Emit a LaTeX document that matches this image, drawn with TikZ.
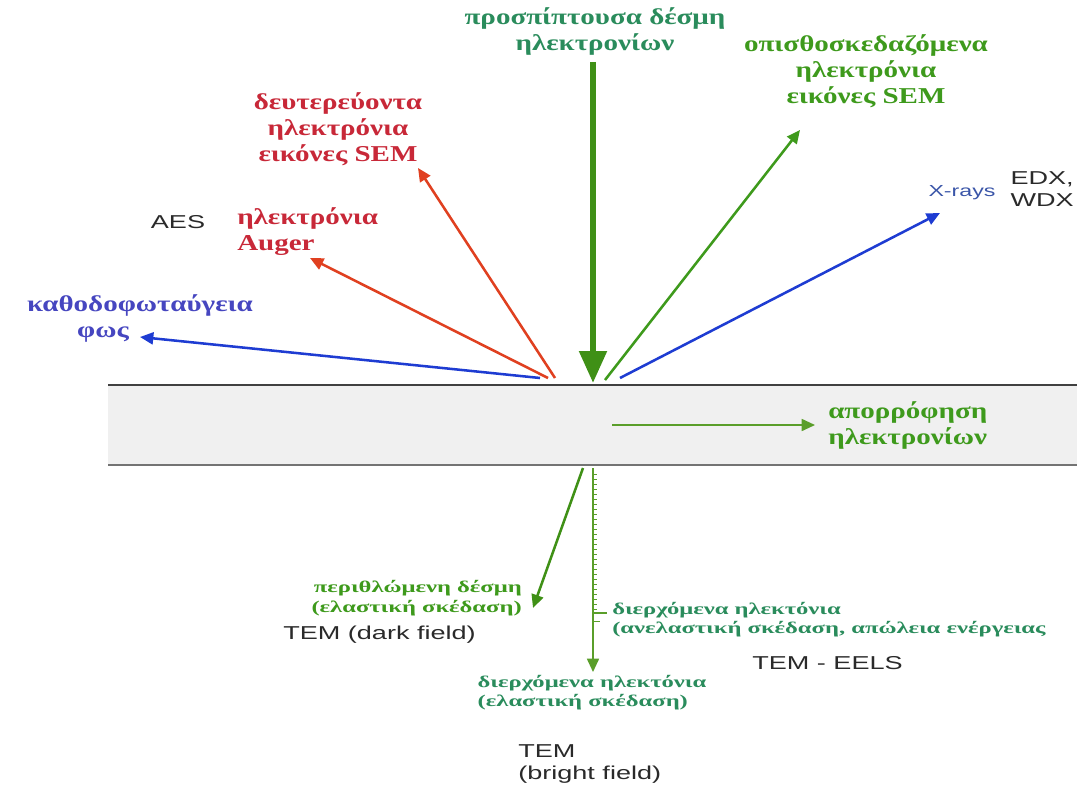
\documentclass[tikz,border=0pt]{standalone}
\usepackage{fontspec}
\setmainfont{Liberation Serif}
\setsansfont{Liberation Sans}
\newfontfamily\grk[FakeStretch=1.28]{Liberation Serif}
\newfontfamily\grks[FakeStretch=1.5]{Liberation Serif}
\newfontfamily\sfw[FakeStretch=1.45]{Liberation Sans}
\usetikzlibrary{arrows.meta}
\definecolor{tealg}{HTML}{2A8C5C}
\definecolor{brg}{HTML}{3E9A1C}
\definecolor{arrg}{HTML}{3F9016}
\definecolor{thing}{HTML}{5A9E2A}
\definecolor{redt}{HTML}{C82838}
\definecolor{reda}{HTML}{E04020}
\definecolor{bluea}{HTML}{1E3CD2}
\definecolor{bluet}{HTML}{4646C0}
\definecolor{bluex}{HTML}{3A55A8}
\definecolor{darkt}{HTML}{2A2A2A}
\definecolor{slab}{HTML}{F0F0F0}
\tikzset{
  big/.style={font=\grk\bfseries\fontsize{17pt}{19.5pt}\selectfont, align=center, inner sep=0pt},
  small/.style={font=\grks\bfseries\fontsize{12.3pt}{14.5pt}\selectfont, inner sep=0pt},
  sans/.style={font=\sfw\fontsize{14pt}{16.5pt}\selectfont, text=darkt, inner sep=0pt},
  ray/.style={line width=1.9pt, -{Triangle[length=10pt,width=9pt]}},
  thinray/.style={line width=1.3pt, -{Triangle[length=10pt,width=9pt]}},
  tick/.style={thing, line width=0.5pt},
}
\begin{document}
\begin{tikzpicture}[x=0.75pt,y=-0.75pt]
\useasboundingbox (0,0) rectangle (1077,788);
\fill[white] (0,0) rectangle (1077,788);
% specimen slab
\fill[slab] (108,385) rectangle (1077,465);
\draw[line width=1.5pt, black!75] (108,385) -- (1077,385);
\draw[line width=2.2pt, black!55] (108,465) -- (1077,465);

% coordinates
\coordinate (inS) at (593,62);
\coordinate (inE) at (593,383);
\coordinate (bsS) at (605,380);
\coordinate (bsE) at (800,130);
\coordinate (xrS) at (620,378);
\coordinate (xrE) at (940,213);
\coordinate (seS) at (555,378);
\coordinate (seE) at (418,168);
\coordinate (auS) at (548,378);
\coordinate (auE) at (310,258);
\coordinate (clS) at (540,378);
\coordinate (clE) at (140,337);
\coordinate (abS) at (612,425);
\coordinate (abE) at (815,425);
\coordinate (dfS) at (583,468);
\coordinate (dfE) at (533,608);
\coordinate (trS) at (593,468);
\coordinate (trE) at (593,672);

% arrows
\draw[arrg, line width=4.6pt, -{Triangle[length=24pt,width=20pt]}] (inS) -- (inE);
\draw[ray, brg] (bsS) -- (bsE);
\draw[ray, bluea] (xrS) -- (xrE);
\draw[ray, reda] (seS) -- (seE);
\draw[ray, reda] (auS) -- (auE);
\draw[ray, bluea] (clS) -- (clE);
\draw[thinray, thing] (abS) -- (abE);
\draw[ray, arrg] (dfS) -- (dfE);
\draw[thinray, thing] (trS) -- (trE);
\foreach \y in {474,479,...,609} \draw[tick] (593,\y) -- (597,\y);
\draw[tick, line width=0.8pt] (593,613) -- (607,613);
\draw[tick] (593,621) -- (600,621);

% labels
\node[big, text=tealg] (inL) at (595,31) {προσπίπτουσα δέσμη\\ηλεκτρονίων};
\node[big, text=brg] (bsL) at (866,71) {οπισθοσκεδαζόμενα\\ηλεκτρόνια\\εικόνες SEM};
\node[big, text=redt] (seL) at (338,129) {δευτερεύοντα\\ηλεκτρόνια\\εικόνες SEM};
\node[big, text=redt, align=left, anchor=west] (auL) at (237,232) {ηλεκτρόνια\\Auger};
\node[sans] (aes) at (178,222) {AES};
\node[big, text=bluet] (cl1) at (140,305) {καθοδοφωταύγεια};
\node[big, text=bluet] (cl2) at (103,335) {φως};
\node[sans, text=bluex, font=\sfw\fontsize{12pt}{13pt}\selectfont] (xr) at (962,193) {X-rays};
\node[sans, align=left, anchor=east] (edx) at (1074,189.5) {EDX,\\WDX};
\node[big, text=brg, align=left, anchor=west] (abL) at (828,425) {απορρόφηση\\ηλεκτρονίων};
\node[small, text=brg, align=right, anchor=east] (dfL) at (522,598) {περιθλώμενη δέσμη\\(ελαστική σκέδαση)};
\node[sans, anchor=west] (dark) at (283,635) {TEM (dark field)};
\node[small, text=tealg, align=left, anchor=west] (ieL) at (612,619.5) {διερχόμενα ηλεκτόνια\\(ανελαστική σκέδαση, απώλεια ενέργειας};
\node[sans, anchor=west] (eels) at (752,663) {TEM - EELS};
\node[small, text=tealg, align=left] (trL) at (592,692.5) {διερχόμενα ηλεκτόνια\\(ελαστική σκέδαση)};
\node[sans, align=left, anchor=west] (bright) at (518,764) {TEM\\(bright field)};
\end{tikzpicture}
\end{document}
